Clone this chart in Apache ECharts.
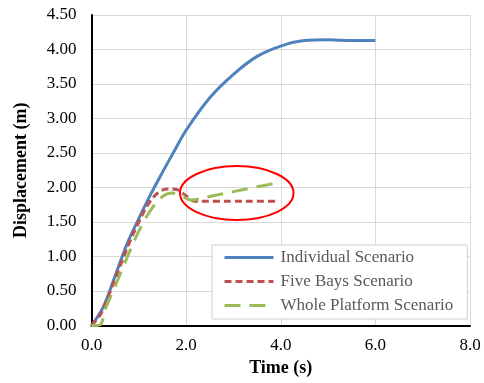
<!DOCTYPE html>
<html><head><meta charset="utf-8">
<script src="https://cdn.jsdelivr.net/npm/echarts@6/dist/echarts.min.js"></script>
<style>html,body{margin:0;padding:0;background:#fff}#c{width:484px;height:383px}</style>
</head><body><div id="c"></div>
<script>
const individual = [[0,0],[0.25,0.27],[0.5,0.72],[0.75,1.18],[1.0,1.55],[1.25,1.9],[1.5,2.22],[1.75,2.53],[2.0,2.83],[2.5,3.3],[3.0,3.64],[3.5,3.9],[4.0,4.05],[4.5,4.13],[5.0,4.14],[5.5,4.13],[6.0,4.13]];
const fiveBays = [[0,0],[0.2,0.17],[0.4,0.5],[0.6,0.85],[0.8,1.2],[1.0,1.5],[1.2,1.76],[1.4,1.92],[1.6,1.98],[1.8,1.97],[2.0,1.88],[2.2,1.80],[2.6,1.80],[3.0,1.80],[3.5,1.80],[3.95,1.80]];
const wholePlatform = [[0,0],[0.1,0.0],[0.2,0.02],[0.3,0.25],[0.5,0.57],[0.7,0.9],[0.9,1.22],[1.1,1.5],[1.3,1.72],[1.5,1.87],[1.7,1.92],[1.9,1.88],[2.1,1.82],[2.5,1.87],[3.0,1.94],[3.5,2.01],[3.95,2.07]];
const highlight = [[3.07,1.92,1.2,0.39]];
const seriesNames = ['Individual Scenario','Five Bays Scenario','Whole Platform Scenario'];
const xTicks = {min:0,max:8,interval:2};
const yTicks = {min:0,max:4.5,interval:0.5};

const serif = '"Liberation Serif","Times New Roman",serif';
const chart = echarts.init(document.getElementById('c'));
chart.setOption({
  animation:false,
  grid:{left:91.5,right:14,top:15,bottom:57.5},
  legend:{
    left:212, top:245, orient:'vertical',
    itemWidth:49, itemHeight:16, itemGap:7,
    padding:[4,14,5,11],
    borderColor:'#d0d0d0', borderWidth:1, backgroundColor:'#fff',
    itemStyle:{color:'rgba(0,0,0,0)',borderWidth:0,opacity:0},
    lineStyle:{width:3},
    textStyle:{fontFamily:serif,fontSize:17,color:'#595959',lineHeight:16,padding:[0,0,0,2]},
    data:seriesNames
  },
  xAxis:{type:'value',min:xTicks.min,max:xTicks.max,interval:xTicks.interval,
    name:'Time (s)',nameLocation:'middle',nameGap:31,
    nameTextStyle:{fontFamily:serif,fontWeight:'bold',fontSize:18,color:'#000'},
    axisLine:{lineStyle:{color:'#000',width:2}},axisTick:{show:false},
    axisLabel:{fontFamily:serif,fontSize:17,color:'#000',margin:12,formatter:v=>v.toFixed(1)},
    splitLine:{lineStyle:{color:'#d9d9d9',width:1}}},
  yAxis:{type:'value',min:yTicks.min,max:yTicks.max,interval:yTicks.interval,
    name:'Displacement (m)',nameLocation:'middle',nameGap:61,
    nameTextStyle:{fontFamily:serif,fontWeight:'bold',fontSize:18,color:'#000'},
    axisLine:{show:true,lineStyle:{color:'#000',width:2}},axisTick:{show:false},
    axisLabel:{fontFamily:serif,fontSize:17,color:'#000',margin:15,formatter:v=>v.toFixed(2)},
    splitLine:{lineStyle:{color:'#d9d9d9',width:1}}},
  series:[
    {name:seriesNames[0],type:'line',data:individual,smooth:0.35,symbol:'none',z:3,
      lineStyle:{color:'#4f81bd',width:3},itemStyle:{color:'#4f81bd'}},
    {name:seriesNames[1],type:'line',data:fiveBays,smooth:0.35,symbol:'none',z:4,
      lineStyle:{color:'#c0504d',width:3,type:[7,4]},itemStyle:{color:'#c0504d'}},
    {name:seriesNames[2],type:'line',data:wholePlatform,smooth:0.35,symbol:'none',z:5,
      lineStyle:{color:'#9bbb59',width:3,type:[16,9]},itemStyle:{color:'#9bbb59'}},
    {type:'custom',data:highlight,z:6,silent:true,
      renderItem:function(params,api){
        const c = api.coord([api.value(0),api.value(1)]);
        const s = api.size([api.value(2),api.value(3)]);
        return {type:'ellipse',shape:{cx:c[0],cy:c[1],rx:s[0],ry:s[1]},
          style:{fill:'none',stroke:'#ff0000',lineWidth:2}};
      }}
  ]
});
</script></body></html>
